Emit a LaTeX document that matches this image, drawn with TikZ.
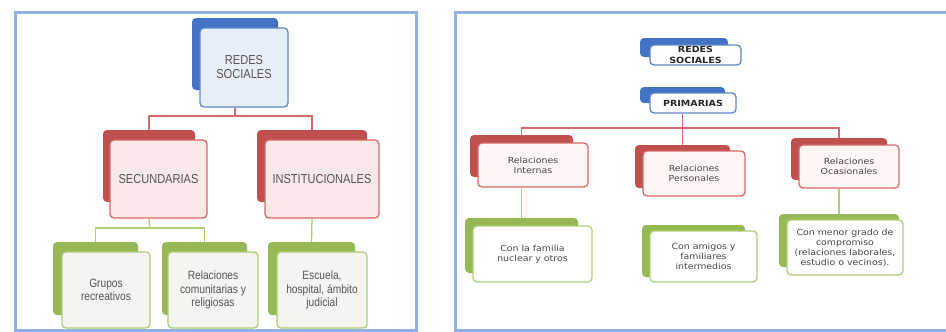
\documentclass[tikz,border=0pt]{standalone}
\usepackage{fontspec}
\newfontfamily\leftfont{Liberation Sans}[FakeStretch=0.85]
\newfontfamily\rightfont{DejaVu Sans}[FakeStretch=1.12]
\definecolor{frameC}{RGB}{141,180,226}
\definecolor{blueD}{RGB}{68,114,196}
\definecolor{blueF}{RGB}{232,238,247}
\definecolor{blueL}{RGB}{95,135,200}
\definecolor{redD}{RGB}{192,80,77}
\definecolor{redF}{RGB}{248,232,232}
\definecolor{redL}{RGB}{212,105,105}
\definecolor{greenD}{RGB}{150,185,85}
\definecolor{greenF}{RGB}{243,245,238}
\definecolor{greenL}{RGB}{175,205,120}
\definecolor{txtL}{RGB}{85,85,85}
\definecolor{txtR}{RGB}{70,70,70}
\tikzset{
  bk/.style={rectangle, rounded corners=4, inner sep=0, draw=none},
  fr/.style={rectangle, rounded corners=4, inner sep=0, line width=1.3, align=center},
  bkB/.style={bk, fill=blueD}, frB/.style={fr, draw=blueL, fill=blueF},
  bkR/.style={bk, fill=redD}, frR/.style={fr, draw=redL, fill=redF},
  bkG/.style={bk, fill=greenD}, frG/.style={fr, draw=greenL, fill=greenF},
  frGw/.style={fr, draw=greenL, fill=white},
  frRw/.style={fr, draw=redL, fill=red!4},
  frBw/.style={fr, draw=blueL, fill=white},
  ltxt/.style={font=\leftfont\fontsize{13}{14}\selectfont, text=txtL},
  ltxts/.style={font=\leftfont\fontsize{12}{13.5}\selectfont, text=txtL},
  rtxt/.style={font=\rightfont\fontsize{8.4}{10}\selectfont, text=txtR},
  rtxtb/.style={font=\rightfont\bfseries\fontsize{8.5}{11}\selectfont, text=black!85},
  redline/.style={draw=redL, line width=1.3},
  greenline/.style={draw=greenL, line width=1.3},
  frameline/.style={draw=frameC, line width=3}
}
\begin{document}
\begin{tikzpicture}[x=1pt,y=-1pt]
\useasboundingbox[fill=white] (0,0) rectangle (946,332);
% frames
\draw[frameline] (15,12) rectangle (416,330);
\draw[frameline] (946,12) -- (455,12) -- (455,330) -- (946,330);

% ---------- left panel ----------
\node[bkB, minimum width=86, minimum height=72] (lrootb) at (235,54) {};
\node[frB, ltxt, minimum width=88, minimum height=79] (lroot) at (244,67.5) {REDES\\SOCIALES};

\node[bkR, minimum width=92, minimum height=72] (secb) at (149,166) {};
\node[frR, ltxt, minimum width=97, minimum height=78] (sec) at (158.5,179) {SECUNDARIAS};
\node[bkR, minimum width=110, minimum height=72] (instb) at (312,166) {};
\node[frR, ltxt, minimum width=114, minimum height=78] (inst) at (322,179) {INSTITUCIONALES};

\node[bkG, minimum width=85, minimum height=73] (grpb) at (95.5,278.5) {};
\node[frG, ltxts, minimum width=88, minimum height=76] (grp) at (106,290) {Grupos\\recreativos};
\node[bkG, minimum width=85, minimum height=73] (relb) at (204.5,278.5) {};
\node[frG, ltxts, minimum width=90, minimum height=76] (rel) at (213,290) {Relaciones\\comunitarias y\\religiosas};
\node[bkG, minimum width=87, minimum height=73] (escb) at (311.5,278.5) {};
\node[frG, ltxts, minimum width=90, minimum height=76] (esc) at (322,290) {Escuela,\\hospital, ámbito\\judicial};

\coordinate (j0) at (235,116);
\coordinate (j1) at (150,228);
\draw[redline] (lrootb.center |- lroot.south) -- (j0);
\draw[redline] (secb.north) |- (j0) -| (instb.north);
\draw[greenline] (secb.center |- sec.south) -- (j1);
\draw[greenline] (grpb.north) |- (j1) -| (relb.north);
\draw[greenline] (instb.center |- inst.south) -- (escb.north);

% ---------- right panel ----------
\node[bkB, minimum width=88, minimum height=19] (rredb) at (684,47.5) {};
\node[frBw, rtxtb, minimum width=91, minimum height=20] (rred) at (695.5,55) {REDES\\SOCIALES};
\node[bkB, minimum width=85, minimum height=16] (primb) at (682.5,95) {};
\node[frBw, rtxtb, minimum width=86, minimum height=20] (prim) at (693,103) {PRIMARIAS};

\node[bkR, minimum width=103, minimum height=42] (intb) at (521.5,156) {};
\node[frRw, rtxt, minimum width=110, minimum height=44] (int) at (533,165) {Relaciones\\Internas};
\node[bkR, minimum width=95, minimum height=43] (perb) at (682.5,166.5) {};
\node[frRw, rtxt, minimum width=102, minimum height=45] (per) at (694,173.5) {Relaciones\\Personales};
\node[bkR, minimum width=96, minimum height=42] (ocab) at (839,159) {};
\node[frRw, rtxt, minimum width=100, minimum height=43] (oca) at (849,166.5) {Relaciones\\Ocasionales};

\node[bkG, minimum width=113, minimum height=55] (famb) at (521.5,245.5) {};
\node[frGw, rtxt, minimum width=119, minimum height=56] (fam) at (532.5,254) {Con la familia\\nuclear y otros};
\node[bkG, minimum width=103, minimum height=52] (amib) at (693.5,251) {};
\node[frGw, rtxt, minimum width=107, minimum height=51] (ami) at (703.5,256.5) {Con amigos y\\familiares\\intermedios};
\node[bkG, minimum width=120, minimum height=53] (menb) at (839,240.5) {};
\node[frGw, rtxt, minimum width=116, minimum height=55] (men) at (845,247.5) {Con menor grado de\\compromiso\\(relaciones laborales,\\estudio o vecinos).};

\coordinate (j2) at (682.5,128);
\draw[redline] (primb.center |- prim.south) -- (j2);
\draw[redline] (intb.north) |- (j2) -| (ocab.north);
\draw[redline] (j2) -- (perb.north);
\draw[greenline] (intb.center |- int.south) -- (famb.north);
\draw[greenline] (ocab.center |- oca.south) -- (menb.north);
\end{tikzpicture}
\end{document}
